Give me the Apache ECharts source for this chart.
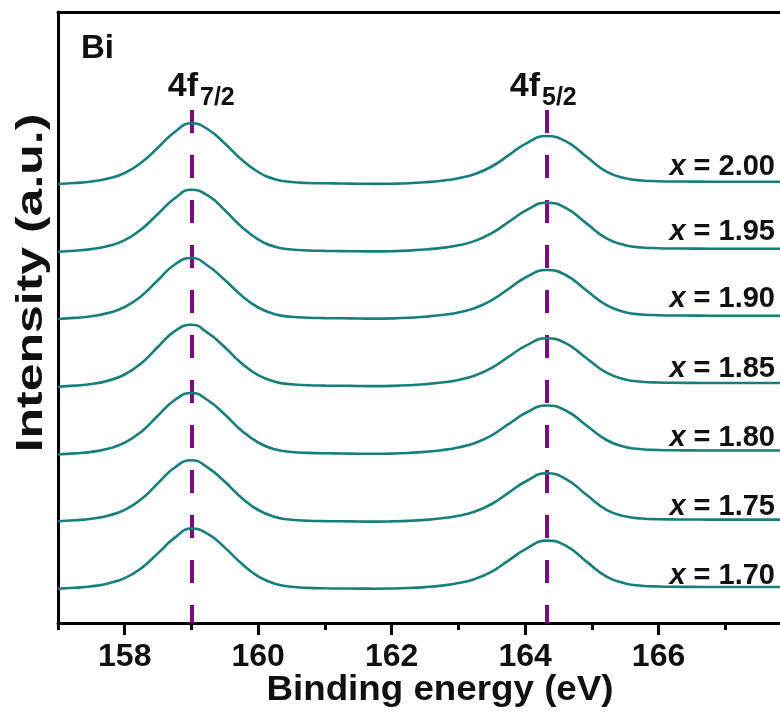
<!DOCTYPE html>
<html>
<head>
<meta charset="utf-8">
<script src="https://cdn.jsdelivr.net/npm/echarts@6/dist/echarts.min.js"></script>
<style>
html,body{margin:0;padding:0;background:#fff;}
#chart{width:780px;height:716px;}
</style>
</head>
<body>
<div id="chart"></div>
<script>
// Binding energy sample points (eV)
const energy = [157.00,157.25,157.50,157.75,158.00,158.25,158.50,158.75,159.00,159.25,
  159.50,159.75,160.00,160.25,160.50,160.75,161.00,161.25,161.50,161.75,
  162.00,162.25,162.50,162.75,163.00,163.25,163.50,163.75,164.02,164.32,
  164.62,164.92,165.22,165.50,165.75,166.00,166.25,166.50,166.75,
  167.00,167.25,167.50,167.75,168.00];

const sampleNames = ['2.00','1.95','1.90','1.85','1.80','1.75','1.70'];
// vertical stacking offsets (a.u.)
const offsets = [439, 371.3, 304, 236.3, 168.5, 101.7, 34.4];

// intensities (a.u., relative to each spectrum's own baseline)
const s200 = [0,1.0,2.5,5.5,11,21.5,36.5,52,60.7,54.5,40.5,24.5,12,4.8,2.0,1.0,0.7,0.5,0.3,0.1,
  0.3,0.8,1.8,3.3,5.8,10,17.5,28.6,40.7,48,42.3,27.3,12.3,5.8,3.5,2.8,2.5,2.4,2.3,2.3,2.3,2.3,2.3,2.3];
const s195 = [0,1.0,2.6,5.7,11.5,22.5,38,53.5,62,56,41.5,25,12.3,5,2.2,1.2,0.8,0.6,0.4,0.3,
  0.5,1.1,2.2,3.8,6.4,10.8,18.5,29.6,41.5,49,43.3,28.3,13.3,6.5,4.2,3.5,3.2,3.1,3.0,3.0,3.0,3.0,3.0,3.0];
const s190 = [0,1.1,2.7,6,12,23,39,54.5,61,53,39,23.5,11.5,4.8,2.2,1.3,0.9,0.7,0.5,0.4,
  0.6,1.2,2.3,4,6.6,11,18.8,30,42,49,43.5,28.5,13.8,6.8,4.5,3.8,3.5,3.4,3.3,3.3,3.3,3.3,3.3,3.3];
const s185 = [0,1.1,2.7,6,12.2,23.5,40,55.5,62,53.5,39.5,23.5,11.5,5,2.4,1.5,1.1,0.9,0.7,0.6,
  0.8,1.4,2.5,4.2,6.8,11.2,18.8,29.8,41.3,48.5,43,28.5,14,7.2,5,4.2,3.9,3.8,3.7,3.7,3.7,3.7,3.7,3.7];
const s180 = [0,1.1,2.6,5.8,11.8,22.8,39,54.5,61.5,54,40,24,12,5.2,2.5,1.6,1.2,1,0.8,0.7,
  0.9,1.5,2.6,4.3,7,11.5,19.2,30.3,42,49,43.5,29,14.5,7.6,5.3,4.5,4.2,4.1,4.0,4.0,4.0,4.0,4.0,4.0];
const s175 = [0,1,2.5,5.6,11.4,22.2,38.2,53.8,61,53.5,39.5,23.5,11.3,4.4,1.6,0.6,0.2,0,-0.2,-0.3,
  -0.1,0.4,1.4,3,5.5,9.8,17.3,28.5,40.3,48,42,26.5,11.5,5,2.8,2.1,1.9,1.8,1.7,1.7,1.7,1.7,1.7,1.7];
const s170 = [0,0.9,2.3,5.2,10.5,20.5,35.5,51,60,54.5,41,25,12.2,4.8,1.8,0.7,0.3,0.1,0,-0.1,
  0.1,0.6,1.5,3,5.5,9.7,17,28,40,48,42.5,27,12,5.2,2.9,2.1,1.8,1.7,1.6,1.6,1.6,1.6,1.6,1.6];
const spectra = [s200, s195, s190, s185, s180, s175, s170];

const peakPositions = [159.0, 164.32];
const peakLabels = [['4f','7/2'], ['4f','5/2']];
const majorTicks = [158, 160, 162, 164, 166];
const minorTicks = [157, 159, 161, 163, 165, 167];

const FONT = 'Liberation Sans, Arial, Helvetica, sans-serif';
const TEAL = '#167f7b';
const PURPLE = '#7d0a84';

const chart = echarts.init(document.getElementById('chart'), null, {renderer: 'canvas'});

const series = spectra.map((arr, k) => ({
  type: 'line',
  name: 'x = ' + sampleNames[k],
  data: arr.map((v, i) => [energy[i], v + offsets[k]]),
  showSymbol: false,
  smooth: 0.5,
  lineStyle: {color: TEAL, width: 2.6},
  silent: true,
  z: 3
}));

series[0].markLine = {
  silent: true,
  symbol: ['none', 'none'],
  label: {show: false},
  lineStyle: {color: PURPLE, width: 4, type: [23, 22], opacity: 1},
  z: 2,
  data: peakPositions.map(p => [{coord: [p, 513]}, {coord: [p, 0]}])
};

const graphics = [];
// sample labels
const labelY = [167, 232.5, 299, 369, 438, 507, 576];
sampleNames.forEach((n, k) => {
  graphics.push({
    type: 'text', right: 5, top: labelY[k] - 15,
    style: {
      text: '{i|x}{n| = ' + n + '}',
      rich: {
        i: {fontFamily: FONT, fontSize: 29, fontWeight: 'bold', fontStyle: 'italic', fill: '#111'},
        n: {fontFamily: FONT, fontSize: 29, fontWeight: 'bold', fill: '#111'}
      }
    }
  });
});
// peak labels
const peakLabelX = [198, 540];
peakLabels.forEach((pl, k) => {
  graphics.push({
    type: 'text', x: peakLabelX[k], y: 87,
    style: {text: pl[0], font: 'bold 34px ' + FONT, fill: '#111', align: 'right', verticalAlign: 'middle'}
  });
  graphics.push({
    type: 'text', x: peakLabelX[k] + 2, y: 98,
    style: {text: pl[1], font: 'bold 25px ' + FONT, fill: '#111', align: 'left', verticalAlign: 'middle'}
  });
});
// Bi
graphics.push({
  type: 'text', x: 81, y: 49,
  style: {text: 'Bi', font: 'bold 33px ' + FONT, fill: '#111', align: 'left', verticalAlign: 'middle'}
});
// axis titles
graphics.push({
  type: 'text', x: 440, y: 690, scaleX: 1.05,
  style: {text: 'Binding energy (eV)', font: 'bold 35px ' + FONT, fill: '#111', align: 'center', verticalAlign: 'middle'}
});
graphics.push({
  type: 'text', x: 32, y: 283, rotation: Math.PI / 2, scaleX: 1.35,
  style: {text: 'Intensity (a.u.)', font: 'bold 37px ' + FONT, fill: '#111', align: 'center', verticalAlign: 'middle'}
});

const axisBase = {
  type: 'value', min: 157, max: 167.82,
  splitLine: {show: false}, minorSplitLine: {show: false}
};

chart.setOption({
  animation: false,
  backgroundColor: '#ffffff',
  grid: {left: 58, right: 0, top: 12, bottom: 93, containLabel: false, outerBoundsMode: 'none'},
  xAxis: [
    Object.assign({}, axisBase, {
      position: 'bottom',
      axisLine: {show: true, lineStyle: {color: '#000', width: 3}},
      axisTick: {show: true, inside: false, length: 12, customValues: majorTicks, lineStyle: {color: '#000', width: 3}},
      axisLabel: {show: true, customValues: majorTicks, margin: 18, fontSize: 32, fontWeight: 'bold', fontFamily: FONT, color: '#111'}
    }),
    Object.assign({}, axisBase, {
      position: 'bottom',
      axisLine: {show: false},
      axisTick: {show: true, inside: false, length: 7, customValues: minorTicks, lineStyle: {color: '#000', width: 3}},
      axisLabel: {show: false}
    }),
    Object.assign({}, axisBase, {
      position: 'top',
      axisLine: {show: true, lineStyle: {color: '#000', width: 3}},
      axisTick: {show: false},
      axisLabel: {show: false}
    })
  ],
  yAxis: {
    type: 'value', min: 0, max: 611,
    axisLine: {show: true, lineStyle: {color: '#000', width: 3}},
    axisTick: {show: false},
    axisLabel: {show: false},
    splitLine: {show: false}
  },
  graphic: graphics,
  series: series
});
</script>
</body>
</html>
